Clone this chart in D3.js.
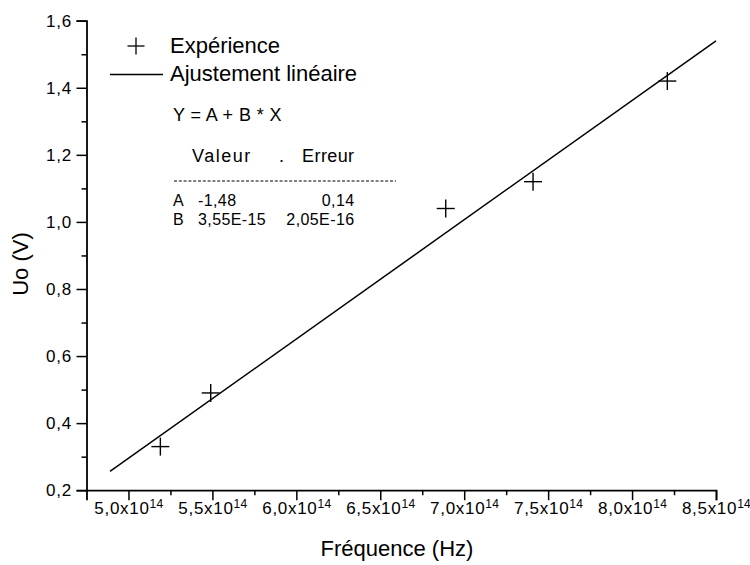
<!DOCTYPE html>
<html>
<head>
<meta charset="utf-8">
<script src="https://cdn.jsdelivr.net/npm/d3@7"></script>
<style>
  body { margin: 0; background: #fff; }
  svg { font-family: "Liberation Sans", Arial, sans-serif; }
</style>
</head>
<body>
<div id="chart"></div>
<script>
// mesures (raies du mercure)
const freq = [5.19e14, 5.49e14, 6.89e14, 7.41e14, 8.21e14];
const tension = [0.33, 0.49, 1.04, 1.12, 1.42];

// droite d'ajustement, extremites
const fitX = [4.89e14, 8.5e14];
const fitY = [0.256, 1.54];

const xTicks = [5.0e14, 5.5e14, 6.0e14, 6.5e14, 7.0e14, 7.5e14, 8.0e14, 8.5e14];
const xMinor = [5.25e14, 5.75e14, 6.25e14, 6.75e14, 7.25e14, 7.75e14, 8.25e14];
const yTicks = [0.2, 0.4, 0.6, 0.8, 1.0, 1.2, 1.4, 1.6];
const yMinor = [0.3, 0.5, 0.7, 0.9, 1.1, 1.3, 1.5];

const fitRows = [
  { name: "A", value: "-1,48", err: "0,14" },
  { name: "B", value: "3,55E-15", err: "2,05E-16" }
];

const W = 750, H = 565;
const pLeft = 86.5, pRight = 716, pTop = 20.7, pBottom = 490.2;

const svg = d3.select("#chart").append("svg")
  .attr("width", W)
  .attr("height", H);

const x = d3.scaleLinear().domain([4.75e14, 8.5e14]).range([pLeft, pRight]);
const y = d3.scaleLinear().domain([0.2, 1.6]).range([pBottom, pTop]);

const comma = v => v.toFixed(1).replace(".", ",");

// axe X
const xAxis = svg.append("g")
  .attr("transform", "translate(0," + pBottom + ")")
  .call(d3.axisBottom(x).tickValues(xTicks).tickSize(10).tickPadding(1.5)
    .tickFormat(d => comma(d / 1e14)));
xAxis.selectAll(".tick text")
  .style("font-size", "17px")
  .style("letter-spacing", "0.7px")
  .each(function (d) {
    const t = d3.select(this);
    t.text(null);
    t.append("tspan").text(comma(d / 1e14) + "x10");
    t.append("tspan").text("14").attr("dy", "-0.5em").style("font-size", "12px")
      .style("letter-spacing", "0.3px");
  });
svg.append("g")
  .attr("transform", "translate(0," + pBottom + ")")
  .call(d3.axisBottom(x).tickValues(xMinor).tickSize(5).tickFormat(""))
  .select(".domain").remove();

// axe Y
const yAxis = svg.append("g")
  .attr("transform", "translate(" + pLeft + ",0)")
  .call(d3.axisLeft(y).tickValues(yTicks).tickSize(10).tickPadding(4.5)
    .tickFormat(comma));
yAxis.selectAll(".tick text").style("font-size", "17px").style("letter-spacing", "0.8px");
svg.append("g")
  .attr("transform", "translate(" + pLeft + ",0)")
  .call(d3.axisLeft(y).tickValues(yMinor).tickSize(5).tickFormat(""))
  .select(".domain").remove();

svg.selectAll(".domain").attr("stroke-width", 1.8);
svg.selectAll(".tick line").attr("stroke-width", 1.5);

// titres
svg.append("text")
  .attr("x", 397)
  .attr("y", 556)
  .attr("text-anchor", "middle")
  .style("font-size", "22px")
  .text("Fréquence (Hz)");

svg.append("text")
  .attr("transform", "translate(28,264) rotate(-90)")
  .attr("text-anchor", "middle")
  .style("font-size", "22px")
  .text("Uo (V)");

// droite d'ajustement
const line = d3.line().x(d => x(d[0])).y(d => y(d[1]));
svg.append("path")
  .datum(d3.zip(fitX, fitY))
  .attr("d", line)
  .attr("fill", "none")
  .attr("stroke", "#000")
  .attr("stroke-width", 1.5);

// points experimentaux (croix +)
const plus = (g, cx, cy, r) => {
  g.append("line").attr("x1", cx - r).attr("x2", cx + r).attr("y1", cy).attr("y2", cy);
  g.append("line").attr("x1", cx).attr("x2", cx).attr("y1", cy - r).attr("y2", cy + r);
};
const pts = svg.append("g").attr("stroke", "#000").attr("stroke-width", 1.4);
d3.zip(freq, tension).forEach(d => plus(pts, x(d[0]), y(d[1]), 9));

// legende
const leg = svg.append("g");
const legMark = leg.append("g").attr("stroke", "#000").attr("stroke-width", 1.3);
plus(legMark, 136, 46, 8.5);
leg.append("line")
  .attr("x1", 110).attr("x2", 163).attr("y1", 74.5).attr("y2", 74.5)
  .attr("stroke", "#000").attr("stroke-width", 1.3);
leg.append("text").attr("x", 170).attr("y", 53).style("font-size", "22px").text("Expérience");
leg.append("text").attr("x", 170).attr("y", 81).style("font-size", "22px").text("Ajustement linéaire");

// tableau de l'ajustement
const tab = svg.append("g").style("font-size", "18px").style("letter-spacing", "0.4px");
tab.append("text").attr("x", 173).attr("y", 121).text("Y = A + B * X");
tab.append("text").attr("x", 192).attr("y", 162).style("letter-spacing", "1.5px").text("Valeur");
tab.append("text").attr("x", 279).attr("y", 162).text(".");
tab.append("text").attr("x", 354.5).attr("y", 162).attr("text-anchor", "end").text("Erreur");
tab.append("line")
  .attr("x1", 174).attr("x2", 396).attr("y1", 181).attr("y2", 181)
  .attr("stroke", "#000").attr("stroke-width", 1)
  .attr("stroke-dasharray", "3,1.8");
const rows = tab.append("g").style("font-size", "16px");
fitRows.forEach((r, i) => {
  const by = 206 + i * 18.5;
  rows.append("text").attr("x", 173).attr("y", by).text(r.name);
  rows.append("text").attr("x", 198).attr("y", by).text(r.value);
  rows.append("text").attr("x", 354.5).attr("y", by).attr("text-anchor", "end").text(r.err);
});
</script>
</body>
</html>
